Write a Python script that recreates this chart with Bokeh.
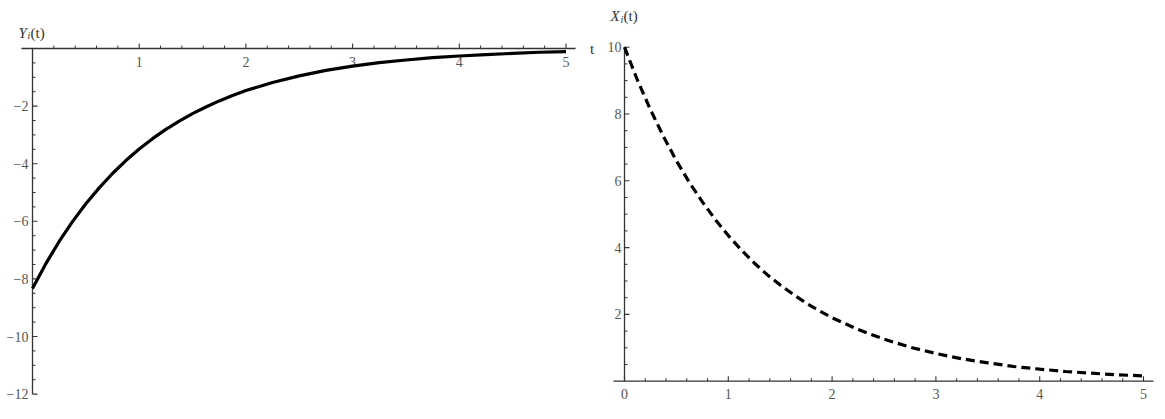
import numpy as np
from bokeh.plotting import figure
from bokeh.layouts import row
from bokeh.models import Range1d
from bokeh.embed import file_html
from bokeh.resources import INLINE
from bokeh.core.properties import value

# ---- data ----
t = [0, 0.125, 0.25, 0.375, 0.5, 0.625, 0.75, 0.875, 1.0, 1.125, 1.25, 1.375,
     1.5, 1.625, 1.75, 1.875, 2.0, 2.25, 2.5, 2.75, 3.0, 3.25, 3.5, 3.75, 4.0,
     4.25, 4.5, 4.75, 5.0]
y_i = [-8.33, -7.47, -6.70, -6.01, -5.39, -4.84, -4.34, -3.89, -3.49, -3.13,
       -2.81, -2.52, -2.26, -2.03, -1.82, -1.63, -1.46, -1.18, -0.95, -0.76,
       -0.61, -0.49, -0.40, -0.32, -0.26, -0.21, -0.17, -0.13, -0.11]
x_i = [10.0, 9.01, 8.13, 7.33, 6.60, 5.95, 5.37, 4.84, 4.36, 3.93, 3.54, 3.19,
       2.88, 2.60, 2.34, 2.11, 1.90, 1.55, 1.26, 1.02, 0.83, 0.67, 0.55, 0.44,
       0.36, 0.29, 0.24, 0.19, 0.16]

left_x_ticks = [1, 2, 3, 4, 5]
left_x_labels = ["1", "2", "3", "4", "5"]
left_y_ticks = [-2, -4, -6, -8, -10, -12]
left_y_labels = ["\u22122", "\u22124", "\u22126", "\u22128", "\u221210", "\u221212"]
right_x_ticks = [0, 1, 2, 3, 4, 5]
right_x_labels = ["0", "1", "2", "3", "4", "5"]
right_y_ticks = [2, 4, 6, 8, 10]
right_y_labels = ["2", "4", "6", "8", "10"]

FONT = value("Liberation Serif")
AXIS_COLOR = "#333333"
LABEL_COLOR = "#555555"
TICK_FS = "14px"
H = 419


def make_fig(w, sx, sy, ox, oy):
    xr = Range1d(-ox / sx, (w - ox) / sx)
    yr = Range1d(-(H - oy) / sy, oy / sy)
    p = figure(width=w, height=H, x_range=xr, y_range=yr,
               output_backend="svg", toolbar_location=None,
               x_axis_location=None, y_axis_location=None,
               min_border=0, outline_line_color=None)
    p.xgrid.visible = False
    p.ygrid.visible = False
    return p


def minor(a, b, step, majors):
    vals = np.arange(a, b + 1e-9, step)
    return [float(v) for v in vals if all(abs(v - m) > 1e-6 for m in majors) and abs(v) > 1e-6]


# ---------------- left panel ----------------
LSX, LSY, LOX, LOY = 106.7, 28.8, 32, 48
pl = make_fig(600, LSX, LSY, LOX, LOY)

pl.segment(x0=[-11 / LSX], y0=[0], x1=[5.09], y1=[0], line_color=AXIS_COLOR, line_width=1.3)
mx = minor(0, 5, 0.2, left_x_ticks)
pl.segment(x0=left_x_ticks, y0=[0] * 5, x1=left_x_ticks, y1=[5 / LSY] * 5,
           line_color=AXIS_COLOR, line_width=1.1)
pl.segment(x0=mx, y0=[0] * len(mx), x1=mx, y1=[3 / LSY] * len(mx),
           line_color=AXIS_COLOR, line_width=1.0)
pl.text(x=left_x_ticks, y=[0] * 5, text=left_x_labels, text_font=FONT,
        text_font_size=TICK_FS, text_align="center", text_baseline="top",
        text_color=LABEL_COLOR, y_offset=8)

pl.segment(x0=[0], y0=[0], x1=[0], y1=[-12], line_color=AXIS_COLOR, line_width=1.3)
my = minor(-12, 0, 0.5, left_y_ticks)
pl.segment(x0=[0] * 6, y0=left_y_ticks, x1=[5 / LSX] * 6, y1=left_y_ticks,
           line_color=AXIS_COLOR, line_width=1.1)
pl.segment(x0=[0] * len(my), y0=my, x1=[3 / LSX] * len(my), y1=my,
           line_color=AXIS_COLOR, line_width=1.0)
pl.text(x=[0] * 6, y=left_y_ticks, text=left_y_labels, text_font=FONT,
        text_font_size=TICK_FS, text_align="right", text_baseline="middle",
        text_color=LABEL_COLOR, x_offset=-4)

pl.text(x=[0], y=[0], text=["Y"], text_font=FONT, text_font_style="italic",
        text_font_size="15px", text_align="left", text_baseline="alphabetic",
        text_color=AXIS_COLOR, x_offset=-14, y_offset=-16)
pl.text(x=[0], y=[0], text=["i"], text_font=FONT, text_font_style="italic",
        text_font_size="10px", text_align="left", text_baseline="alphabetic",
        text_color=AXIS_COLOR, x_offset=-5, y_offset=-13)
pl.text(x=[0], y=[0], text=["(t)"], text_font=FONT,
        text_font_size="15px", text_align="left", text_baseline="alphabetic",
        text_color=AXIS_COLOR, x_offset=-2, y_offset=-16)
pl.text(x=[5.0], y=[0], text=["t"], text_font=FONT,
        text_font_size="15px", text_align="left", text_baseline="middle",
        text_color=AXIS_COLOR, x_offset=24)

pl.line(t, y_i, line_color="black", line_width=3.2, line_join="round")

# ---------------- right panel ----------------
RSX, RSY, ROX, ROY = 103.8, 33.4, 24, 380.7
pr = make_fig(565, RSX, RSY, ROX, ROY)

pr.segment(x0=[-11 / RSX], y0=[0], x1=[5.096], y1=[0], line_color=AXIS_COLOR, line_width=1.3)
rmx = minor(0, 5, 0.2, right_x_ticks)
pr.segment(x0=right_x_ticks, y0=[0] * 6, x1=right_x_ticks, y1=[5 / RSY] * 6,
           line_color=AXIS_COLOR, line_width=1.1)
pr.segment(x0=rmx, y0=[0] * len(rmx), x1=rmx, y1=[3 / RSY] * len(rmx),
           line_color=AXIS_COLOR, line_width=1.0)
pr.text(x=right_x_ticks, y=[0] * 6, text=right_x_labels, text_font=FONT,
        text_font_size=TICK_FS, text_align="center", text_baseline="top",
        text_color=LABEL_COLOR, y_offset=8)

pr.segment(x0=[0], y0=[0], x1=[0], y1=[10], line_color=AXIS_COLOR, line_width=1.3)
rmy = minor(0, 10, 0.5, right_y_ticks)
pr.segment(x0=[0] * 5, y0=right_y_ticks, x1=[5 / RSX] * 5, y1=right_y_ticks,
           line_color=AXIS_COLOR, line_width=1.1)
pr.segment(x0=[0] * len(rmy), y0=rmy, x1=[3 / RSX] * len(rmy), y1=rmy,
           line_color=AXIS_COLOR, line_width=1.0)
pr.text(x=[0] * 5, y=right_y_ticks, text=right_y_labels, text_font=FONT,
        text_font_size=TICK_FS, text_align="right", text_baseline="middle",
        text_color=LABEL_COLOR, x_offset=-3)

pr.text(x=[0], y=[10], text=["X"], text_font=FONT, text_font_style="italic",
        text_font_size="15px", text_align="left", text_baseline="alphabetic",
        text_color=AXIS_COLOR, x_offset=-14, y_offset=-31)
pr.text(x=[0], y=[10], text=["i"], text_font=FONT, text_font_style="italic",
        text_font_size="10px", text_align="left", text_baseline="alphabetic",
        text_color=AXIS_COLOR, x_offset=-4, y_offset=-28)
pr.text(x=[0], y=[10], text=["(t)"], text_font=FONT,
        text_font_size="15px", text_align="left", text_baseline="alphabetic",
        text_color=AXIS_COLOR, x_offset=-1, y_offset=-31)

pr.line(t, x_i, line_color="black", line_width=3.2, line_dash="9 5")

layout = row(pl, pr)
open("out.html", "w").write(file_html(layout, INLINE))
